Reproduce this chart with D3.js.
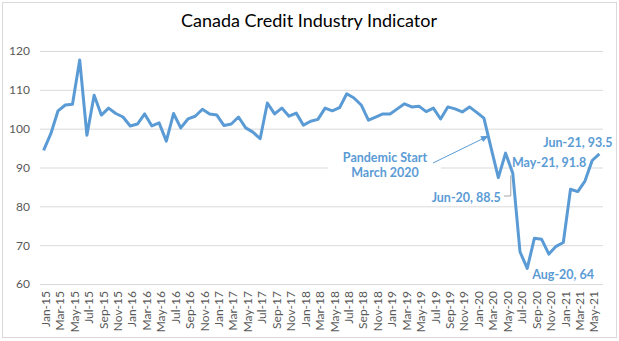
<html>
<head>
<script src="https://d3js.org/d3.v7.min.js"></script>
<style>
body { margin: 0; background: #fff; }
text { font-family: Lato, "Open Sans", sans-serif; }
</style>
</head>
<body>
<svg id="svg" width="619" height="341"></svg>
<script>
// monthly index, Jan-15 .. Jun-21
var months = [];
var years = ["15", "16", "17", "18", "19", "20", "21"];
var monthNames = ["Jan","Feb","Mar","Apr","May","Jun","Jul","Aug","Sep","Oct","Nov","Dec"];
years.forEach(function(y) {
    monthNames.forEach(function(m) { months.push(m + "-" + y); });
});
months = months.slice(0, 78);

var values = [
    94.4, 98.7, 104.6, 106.1, 106.3, 117.7, 98.3, 108.6, 103.5, 105.3, 103.9, 103.0,
    100.7, 101.2, 103.8, 100.7, 101.5, 96.8, 103.9, 100.2, 102.5, 103.2, 105.0, 103.8,
    103.5, 100.8, 101.2, 103.0, 100.2, 99.1, 97.4, 106.6, 103.8, 105.3, 103.2, 104.0,
    100.9, 101.9, 102.4, 105.3, 104.6, 105.4, 109.0, 107.9, 106.1, 102.2, 103.0, 103.8,
    103.8, 105.1, 106.4, 105.6, 105.8, 104.4, 105.3, 102.5, 105.6, 105.1, 104.3, 105.6,
    104.2, 102.7, 95.0, 87.4, 93.7, 88.5, 68.3, 64.0, 71.8, 71.5, 67.7, 69.7,
    70.7, 84.4, 83.8, 86.5, 91.8, 93.5
];
var yTicks = [60, 70, 80, 90, 100, 110, 120];
var labelled = ["Jun-20", "Aug-20", "May-21", "Jun-21"];

var svg = d3.select("svg");
var blue = "#5b9bd5";

svg.append("rect")
    .attr("x", 2.5).attr("y", 2.5)
    .attr("width", 614).attr("height", 335)
    .attr("fill", "#fff").attr("stroke", "#d9d9d9");

svg.append("text")
    .attr("x", 309).attr("y", 27)
    .attr("text-anchor", "middle")
    .attr("font-size", "18px")
    .attr("fill", "#000")
    .text("Canada Credit Industry Indicator");

var x = d3.scaleBand().domain(months).range([40, 603]);
var y = d3.scaleLinear().domain([60, 120]).range([284, 51]);
function cx(m) { return x(m) + x.bandwidth() / 2; }

// gridlines + y labels
var yAxis = svg.append("g")
    .attr("transform", "translate(40,0)")
    .call(d3.axisLeft(y).tickValues(yTicks).tickSize(-563).tickPadding(10));
yAxis.select(".domain").remove();
yAxis.selectAll("line").attr("stroke", "#d9d9d9");
yAxis.selectAll("text").attr("fill", "#595959").attr("font-size", "12px")
    .style("font-family", "Lato, sans-serif");

// x labels, every 2nd month
var xAxis = svg.append("g")
    .attr("transform", "translate(2,284)")
    .call(d3.axisBottom(x).tickValues(months.filter(function(d, i) { return i % 2 == 0; })).tickSize(0));
xAxis.select(".domain").remove();
xAxis.selectAll("text")
    .attr("transform", "rotate(-90)")
    .attr("text-anchor", "end")
    .attr("x", -7).attr("y", 0).attr("dy", "0.35em")
    .attr("fill", "#595959").attr("font-size", "12px")
    .style("font-family", "Lato, sans-serif");

// label boxes hide the gridline behind the text
svg.append("rect").attr("x", 328).attr("y", 145).attr("width", 113).attr("height", 34).attr("fill", "#fff");
svg.append("rect").attr("x", 513).attr("y", 155).attr("width", 74).attr("height", 15).attr("fill", "#fff");

// series
var line = d3.line()
    .x(function(d, i) { return cx(months[i]); })
    .y(function(d) { return y(d); });
svg.append("path")
    .datum(values)
    .attr("d", line)
    .attr("fill", "none")
    .attr("stroke", blue)
    .attr("stroke-width", 3)
    .attr("stroke-linejoin", "round");

// pandemic note
svg.append("defs").append("marker")
    .attr("id", "arr").attr("viewBox", "0 0 10 10")
    .attr("refX", 9).attr("refY", 5)
    .attr("markerWidth", 8).attr("markerHeight", 8)
    .attr("orient", "auto")
    .append("path").attr("d", "M0,1L10,5L0,9z").attr("fill", blue);

var note = svg.append("text")
    .attr("text-anchor", "middle")
    .attr("font-size", "12.5px").attr("font-weight", "bold").attr("fill", blue);
note.append("tspan").attr("x", 385).attr("y", 162).text("Pandemic Start");
note.append("tspan").attr("x", 385).attr("y", 177).text("March 2020");

var mi = months.indexOf("Mar-20");
svg.append("line")
    .attr("x1", 433).attr("y1", 163)
    .attr("x2", cx(months[mi]) - 3).attr("y2", y(values[mi]) - 12)
    .attr("stroke", blue).attr("stroke-width", 1)
    .attr("marker-end", "url(#arr)");

// data labels
function lab(m) { var i = months.indexOf(m); return m + ", " + values[i]; }
function px(m) { return cx(m); }
function py(m) { return y(values[months.indexOf(m)]); }

// leader for Jun-20
svg.append("path")
    .attr("d", "M" + 504 + "," + 196 + "H" + (px("Jun-20") - 2) + "V" + (py("Jun-20") + 2))
    .attr("fill", "none").attr("stroke", "#a6a6a6").attr("stroke-width", 1);

var labPos = {
    "Jun-20": { dx: -12, dy: 29, anchor: "end" },
    "Aug-20": { dx: 5, dy: 11, anchor: "start" },
    "May-21": { dx: -6, dy: 6, anchor: "end" },
    "Jun-21": { dx: 13, dy: -7, anchor: "end" }
};
svg.selectAll(".dl")
    .data(labelled)
    .enter().append("text")
    .attr("class", "dl")
    .attr("x", function(m) { return px(m) + labPos[m].dx; })
    .attr("y", function(m) { return py(m) + labPos[m].dy; })
    .attr("text-anchor", function(m) { return labPos[m].anchor; })
    .attr("font-size", "12.5px").attr("font-weight", "bold").attr("fill", blue)
    .text(lab);
</script>
</body>
</html>
